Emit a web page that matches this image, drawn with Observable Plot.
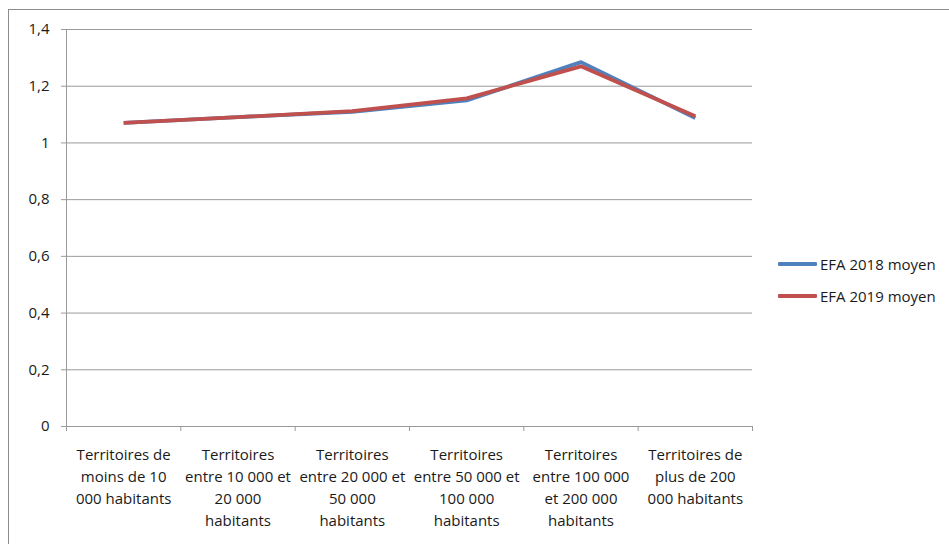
<!DOCTYPE html>
<html>
<head>
<meta charset="utf-8">
<script src="https://cdn.jsdelivr.net/npm/d3@7"></script>
<script src="https://cdn.jsdelivr.net/npm/@observablehq/plot@0.6"></script>
<style>
  html, body { margin: 0; padding: 0; background: #fff; overflow: hidden; }
  #wrap { position: relative; width: 949px; height: 544px; overflow: hidden; font-family: "Open Sans", Lato, sans-serif; }
  #frame { position: absolute; left: 8px; top: 9px; width: 1000px; height: 600px; border: 1px solid #8c8c8c; box-sizing: border-box; }
  #chart { position: absolute; left: 0; top: 0; }
  #legend { position: absolute; left: 778px; top: 248px; font-size: 15px; color: #1a1a1a; }
  .item { display: flex; align-items: center; height: 32px; }
  .sw { width: 39px; height: 3.5px; margin-right: 3px; border-radius: 1px; }
</style>
</head>
<body>
<div id="wrap">
  <div id="frame"></div>
  <div id="chart"></div>
  <div id="legend"></div>
</div>
<script>
const categories = [
  "Territoires de\nmoins de 10\n000 habitants",
  "Territoires\nentre 10 000 et\n20 000\nhabitants",
  "Territoires\nentre 20 000 et\n50 000\nhabitants",
  "Territoires\nentre 50 000 et\n100 000\nhabitants",
  "Territoires\nentre 100 000\net 200 000\nhabitants",
  "Territoires de\nplus de 200\n000 habitants"
];
const seriesNames = ["EFA 2018 moyen", "EFA 2019 moyen"];
const efa2018 = [1.071, 1.091, 1.110, 1.150, 1.285, 1.088];
const efa2019 = [1.071, 1.091, 1.112, 1.157, 1.270, 1.094];
const seriesColors = ["#4F81BD", "#C0504D"];
const yTicks = [0, 0.2, 0.4, 0.6, 0.8, 1, 1.2, 1.4];

const rows = [];
[efa2018, efa2019].forEach((vals, s) => {
  vals.forEach((v, i) => rows.push({series: seriesNames[s], idx: i, value: v}));
});

const catPos = categories.map((c, i) => ({label: c, pos: i + 0.5}));
const boundaries = d3.range(categories.length + 1);

const chart = Plot.plot({
  width: 949,
  height: 544,
  marginLeft: 66,
  marginRight: 197,
  marginTop: 29,
  marginBottom: 118,
  style: {fontFamily: "'Open Sans', Lato, sans-serif", fontSize: "15px", color: "#1a1a1a", background: "transparent"},
  x: {domain: [0, categories.length]},
  y: {domain: [0, 1.4]},
  color: {domain: seriesNames, range: seriesColors},
  marks: [
    Plot.gridY(yTicks.filter(d => d > 0), {stroke: "#9a9a9a", strokeOpacity: 1, strokeWidth: 1}),
    Plot.axisY({ticks: yTicks, tickSize: 5, tickPadding: 12, stroke: "#9a9a9a", fill: "#1a1a1a", fontSize: 15, label: null,
      tickFormat: d => String(d).replace(".", ",")}),
    Plot.axisX({ticks: boundaries, tickSize: 5, stroke: "#9a9a9a", tickFormat: () => "", label: null}),
    Plot.ruleX([0], {stroke: "#9a9a9a"}),
    Plot.ruleY([0], {stroke: "#9a9a9a"}),
    Plot.text(catPos, {x: "pos", y: () => 0, text: "label", lineAnchor: "top", dy: 18, lineHeight: 1.47, fill: "#1a1a1a", fontSize: 15}),
    Plot.line(rows, {x: d => d.idx + 0.5, y: "value", z: "series", stroke: "series", strokeWidth: 3.8, strokeLinejoin: "miter", strokeLinecap: "butt"})
  ]
});
document.getElementById("chart").appendChild(chart);

const legend = document.getElementById("legend");
seriesNames.forEach((name, i) => {
  const item = document.createElement("div");
  item.className = "item";
  const sw = document.createElement("div");
  sw.className = "sw";
  sw.style.background = seriesColors[i];
  const t = document.createElement("span");
  t.textContent = name;
  item.appendChild(sw);
  item.appendChild(t);
  legend.appendChild(item);
});
</script>
</body>
</html>
